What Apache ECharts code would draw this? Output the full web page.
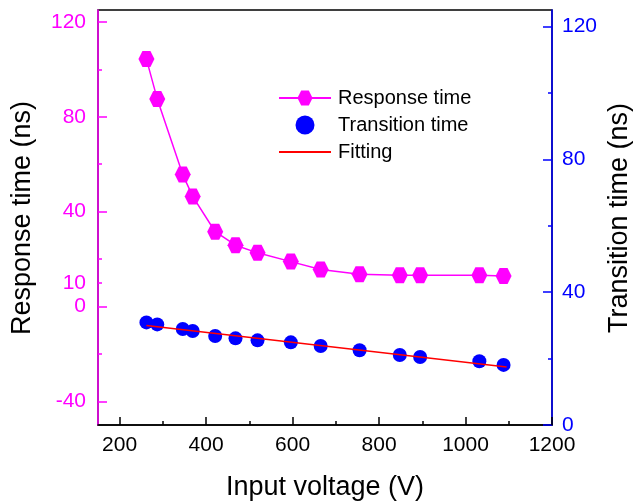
<!DOCTYPE html>
<html>
<head>
<meta charset="utf-8">
<script src="https://cdn.jsdelivr.net/npm/echarts@6/dist/echarts.min.js"></script>
<style>
html, body { margin: 0; padding: 0; background: #fff; }
#main { width: 639px; height: 502px; }
</style>
</head>
<body>
<div id="main"></div>
<script>
var voltage = [262, 287, 346, 369, 421, 468, 519, 596, 665, 755, 848, 895, 1032, 1088];
var responseTime = [104.3, 87.5, 55.6, 46.4, 31.5, 25.8, 22.6, 18.9, 15.6, 13.6, 13.2, 13.2, 13.2, 12.8];
var transitionTime = [30.9, 30.3, 28.9, 28.3, 26.8, 26.1, 25.5, 24.9, 23.8, 22.5, 21.1, 20.5, 19.2, 18.1];
var fitVoltage = [262, 1095];
var fitValues = [30.0, 17.5];

var xTicks = [200, 400, 600, 800, 1000, 1200];
var xMinorTicks = [300, 500, 700, 900, 1100];
var leftLabels = [120, 80, 40, 10, 0, -40];
var leftTicks = [120, 80, 40, 0, -40];
var leftMinorTicks = [100, 60, 20, 10, -20];
var rightTicks = [0, 40, 80, 120];
var rightMinorTicks = [20, 60, 100];

var font = "'Liberation Sans', Arial, sans-serif";
var hexagon = 'path://M-1,0 L-0.5,-0.866 L0.5,-0.866 L1,0 L0.5,0.866 L-0.5,0.866 Z';
var plain = function (v) { return String(v); };

function pairs(xs, ys) {
    return xs.map(function (x, i) { return [x, ys[i]]; });
}

var myChart = echarts.init(document.getElementById('main'));

var option = {
    backgroundColor: '#fff',
    animation: false,
    grid: {
        left: 98, right: 87, top: 10, bottom: 77,
        show: true, borderColor: '#000', borderWidth: 1.5,
        outerBoundsMode: 'none'
    },
    legend: {
        orient: 'vertical',
        left: 278,
        top: 88,
        padding: 0,
        itemWidth: 52,
        itemHeight: 19,
        itemGap: 7,
        textStyle: { fontFamily: font, fontSize: 20, color: '#000', padding: [0, 0, 0, 2] },
        data: [
            'Response time',
            'Transition time',
            { name: 'Fitting', icon: 'path://M0,0 L52,0 L52,2 L0,2 Z' }
        ]
    },
    xAxis: [
        {
            type: 'value', min: 150, max: 1200, interval: 50,
            splitLine: { show: false },
            axisLine: { onZero: false, lineStyle: { color: '#000', width: 1.5 } },
            axisTick: { inside: true, length: 8, customValues: xTicks, lineStyle: { color: '#000', width: 1.5 } },
            axisLabel: { customValues: xTicks, formatter: plain, margin: 10, fontFamily: font, fontSize: 21, color: '#000' }
        },
        {
            type: 'value', min: 150, max: 1200, position: 'bottom',
            splitLine: { show: false },
            axisLine: { show: false, onZero: false },
            axisTick: { inside: true, length: 4, customValues: xMinorTicks, lineStyle: { color: '#000', width: 1.5 } },
            axisLabel: { show: false }
        }
    ],
    yAxis: [
        {
            type: 'value', min: -50, max: 125, position: 'left',
            splitLine: { show: false },
            axisLine: { show: true, onZero: false, lineStyle: { color: '#ff00ff', width: 1.5 } },
            axisTick: { inside: true, length: 9, customValues: leftTicks, lineStyle: { color: '#ff00ff', width: 1.5 } },
            axisLabel: { customValues: leftLabels, formatter: plain, margin: 12, fontFamily: font, fontSize: 21, color: '#ff00ff' }
        },
        {
            type: 'value', min: -50, max: 125, position: 'left',
            splitLine: { show: false },
            axisLine: { show: false, onZero: false },
            axisTick: { inside: true, length: 4, customValues: leftMinorTicks, lineStyle: { color: '#ff00ff', width: 1.5 } },
            axisLabel: { show: false }
        },
        {
            type: 'value', min: 0, max: 125, position: 'right',
            splitLine: { show: false },
            axisLine: { show: true, onZero: false, lineStyle: { color: '#0000ff', width: 1.5 } },
            axisTick: { inside: true, length: 9, customValues: rightTicks, lineStyle: { color: '#0000ff', width: 1.5 } },
            axisLabel: { customValues: rightTicks, formatter: plain, margin: 10, fontFamily: font, fontSize: 21, color: '#0000ff' }
        },
        {
            type: 'value', min: 0, max: 125, position: 'right',
            splitLine: { show: false },
            axisLine: { show: false, onZero: false },
            axisTick: { inside: true, length: 4, customValues: rightMinorTicks, lineStyle: { color: '#0000ff', width: 1.5 } },
            axisLabel: { show: false }
        }
    ],
    graphic: [
        {
            type: 'text', x: 23, y: 218, rotation: Math.PI / 2,
            style: { text: 'Response time (ns)', font: '27px ' + font, fill: '#000', align: 'center', verticalAlign: 'middle' }
        },
        {
            type: 'text', x: 620, y: 218, rotation: Math.PI / 2,
            style: { text: 'Transition time (ns)', font: '27px ' + font, fill: '#000', align: 'center', verticalAlign: 'middle' }
        },
        {
            type: 'text', x: 325, y: 488,
            style: { text: 'Input voltage (V)', font: '27px ' + font, fill: '#000', align: 'center', verticalAlign: 'middle' }
        }
    ],
    series: [
        {
            name: 'Response time',
            type: 'line',
            xAxisIndex: 0, yAxisIndex: 0,
            data: pairs(voltage, responseTime),
            symbol: hexagon,
            symbolSize: [16, 16],
            itemStyle: { color: '#ff00ff' },
            lineStyle: { color: '#ff00ff', width: 1.5 }
        },
        {
            name: 'Transition time',
            type: 'scatter',
            xAxisIndex: 0, yAxisIndex: 2,
            data: pairs(voltage, transitionTime),
            symbol: 'circle',
            symbolSize: 14,
            itemStyle: { color: '#0000ff', opacity: 1 }
        },
        {
            name: 'Fitting',
            type: 'line',
            xAxisIndex: 0, yAxisIndex: 2,
            data: pairs(fitVoltage, fitValues),
            symbol: 'none',
            z: 5,
            itemStyle: { color: '#ff0000' },
            lineStyle: { color: '#ff0000', width: 1.5 }
        }
    ]
};

myChart.setOption(option);
</script>
</body>
</html>
